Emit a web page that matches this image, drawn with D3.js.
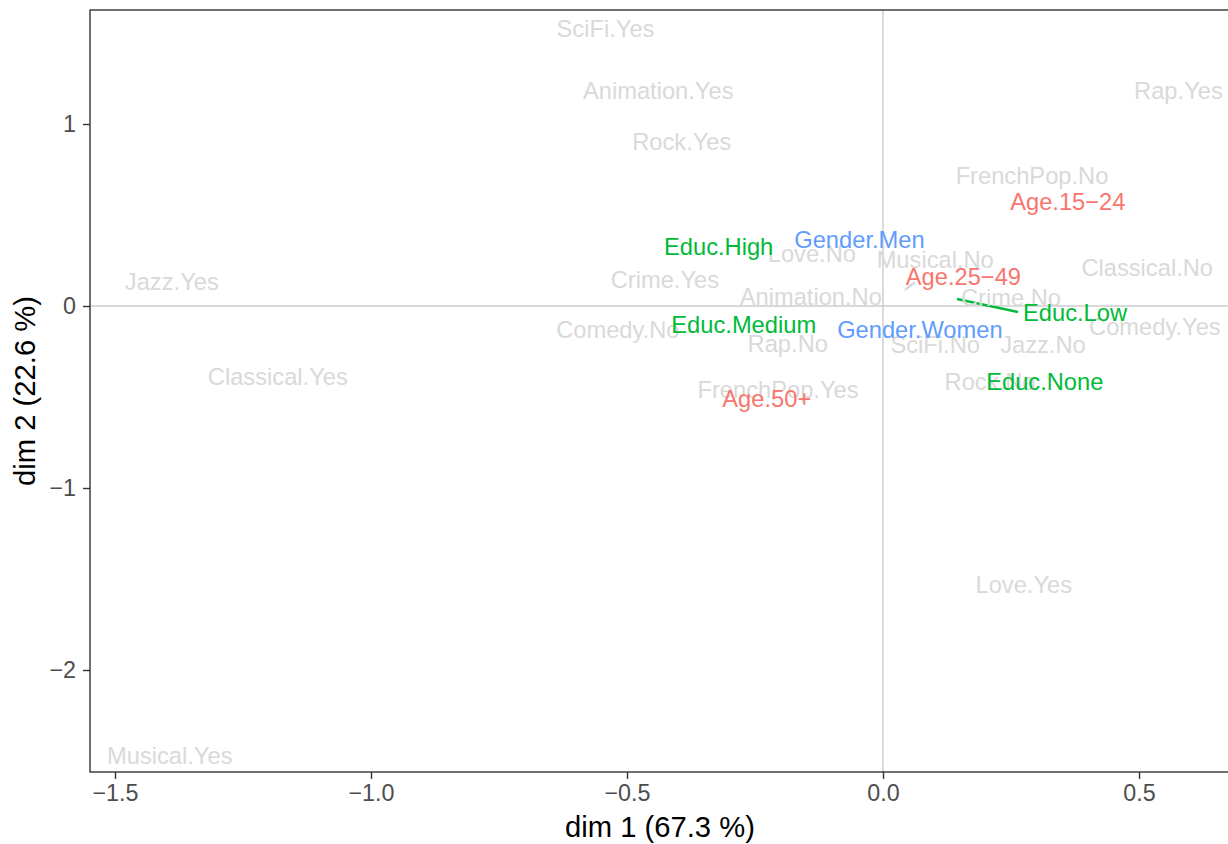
<!DOCTYPE html>
<html>
<head>
<meta charset="utf-8">
<script src="https://cdn.jsdelivr.net/npm/d3@7"></script>
<style>
  html, body { margin: 0; padding: 0; background: #ffffff; }
  svg { display: block; font-family: "Liberation Sans", Arial, Helvetica, sans-serif; }
</style>
</head>
<body>
<svg id="chart" width="1228" height="844"></svg>
<script>
// ---- data (coordinates on dim 1 / dim 2, label positions) ----
const musicLabels = ["SciFi.Yes","Animation.Yes","Rock.Yes","Rap.Yes","FrenchPop.No","Jazz.Yes","Crime.Yes","Love.No","Musical.No","Classical.No","Animation.No","Crime.No","Comedy.No","Comedy.Yes","Rap.No","SciFi.No","Jazz.No","Classical.Yes","FrenchPop.Yes","Rock.No","Love.Yes","Musical.Yes"];
const musicDim1 = [-0.542,-0.439,-0.393,0.577,0.291,-1.389,-0.426,-0.139,0.102,0.516,-0.141,0.250,-0.518,0.531,-0.186,0.102,0.3125,-1.182,-0.205,0.209,0.275,-1.393];
const musicDim2 = [1.522,1.181,0.901,1.181,0.714,0.132,0.143,0.286,0.253,0.209,0.049,0.044,-0.132,-0.115,-0.209,-0.214,-0.214,-0.390,-0.462,-0.418,-1.533,-2.473];

const suppLabels = ["Age.15\u221224","Age.25\u221249","Age.50+","Gender.Men","Gender.Women","Educ.High","Educ.Medium","Educ.Low","Educ.None"];
const suppGroup  = ["Age","Age","Age","Gender","Gender","Educ","Educ","Educ","Educ"];
const suppDim1 = [0.361,0.157,-0.227,-0.046,0.072,-0.321,-0.272,0.375,0.316];
const suppDim2 = [0.571,0.159,-0.511,0.363,-0.132,0.324,-0.104,-0.038,-0.418];

// repel segments (point -> label), data units
const segGroup = ["Music","Educ"];
const segX1 = [0.043, 0.1445];
const segY1 = [0.088, 0.0385];
const segX2 = [0.0625, 0.2637];
const segY2 = [0.132, -0.033];

const xTicks = [-1.5,-1.0,-0.5,0.0,0.5];
const yTicks = [-2,-1,0,1];
const xTitle = "dim 1 (67.3 %)";
const yTitle = "dim 2 (22.6 %)";

// ---- layout ----
const svg = d3.select("#chart");
const P = {left: 90, top: 10, right: 1230, bottom: 772};

const x = d3.scaleLinear().domain([-1.5488, 0.6777]).range([P.left, P.right]);
const y = d3.scaleLinear().domain([-2.5604, 1.6264]).range([P.bottom, P.top]);

const color = d3.scaleOrdinal()
  .domain(["Age","Gender","Educ","Music"])
  .range(["#F8766D","#619CFF","#00BA38","#d9d9d9"]);

const fmtMinus = s => s.replace("-", "\u2212");
const labelSize = 23.7;

// zero lines
svg.append("line")
  .attr("x1", x(0)).attr("x2", x(0)).attr("y1", P.top).attr("y2", P.bottom)
  .attr("stroke", "#cccccc").attr("stroke-width", 1.4);
svg.append("line")
  .attr("x1", P.left).attr("x2", P.right).attr("y1", y(0)).attr("y2", y(0))
  .attr("stroke", "#cccccc").attr("stroke-width", 1.4);

// segments
svg.append("g").selectAll("line").data(segX1).join("line")
  .attr("x1", (d,i) => x(segX1[i])).attr("y1", (d,i) => y(segY1[i]))
  .attr("x2", (d,i) => x(segX2[i])).attr("y2", (d,i) => y(segY2[i]))
  .attr("stroke", (d,i) => color(segGroup[i]))
  .attr("stroke-width", 2.4);

// music (active) labels
svg.append("g").selectAll("text").data(musicLabels).join("text")
  .attr("x", (d,i) => x(musicDim1[i]))
  .attr("y", (d,i) => y(musicDim2[i]))
  .attr("text-anchor", "middle")
  .attr("dominant-baseline", "central")
  .attr("font-size", labelSize)
  .attr("fill", color("Music"))
  .text(d => d);

// supplementary labels
svg.append("g").selectAll("text").data(suppLabels).join("text")
  .attr("x", (d,i) => x(suppDim1[i]))
  .attr("y", (d,i) => y(suppDim2[i]))
  .attr("text-anchor", "middle")
  .attr("dominant-baseline", "central")
  .attr("font-size", labelSize)
  .attr("fill", (d,i) => color(suppGroup[i]))
  .text(d => d);

// panel border
svg.append("rect")
  .attr("x", P.left).attr("y", P.top)
  .attr("width", P.right - P.left).attr("height", P.bottom - P.top)
  .attr("fill", "none").attr("stroke", "#333333").attr("stroke-width", 1.4);

// axes
const xAxis = d3.axisBottom(x).tickValues(xTicks)
  .tickFormat(d => fmtMinus(d3.format(".1f")(d)))
  .tickSize(7).tickPadding(5);
const gx = svg.append("g").attr("transform", `translate(0,${P.bottom})`).call(xAxis);
gx.select(".domain").remove();
gx.selectAll(".tick line").attr("stroke", "#333333").attr("stroke-width", 1.4);
gx.selectAll(".tick text").attr("fill", "#4d4d4d").attr("font-size", 23.3)
  .attr("font-family", "Liberation Sans, Arial, sans-serif");

const yAxis = d3.axisLeft(y).tickValues(yTicks)
  .tickFormat(d => fmtMinus(d3.format("d")(d)))
  .tickSize(7).tickPadding(7);
const gy = svg.append("g").attr("transform", `translate(${P.left},0)`).call(yAxis);
gy.select(".domain").remove();
gy.selectAll(".tick line").attr("stroke", "#333333").attr("stroke-width", 1.4);
gy.selectAll(".tick text").attr("fill", "#4d4d4d").attr("font-size", 23.3)
  .attr("font-family", "Liberation Sans, Arial, sans-serif");

// titles
svg.append("text")
  .attr("x", (P.left + 1228) / 2 + 1).attr("y", 837)
  .attr("text-anchor", "middle")
  .attr("font-size", 29.2).attr("fill", "#000000")
  .text(xTitle);

svg.append("text")
  .attr("transform", `translate(35,${(P.top + P.bottom) / 2}) rotate(-90)`)
  .attr("text-anchor", "middle")
  .attr("font-size", 29.2).attr("fill", "#000000")
  .text(yTitle);
</script>
</body>
</html>
